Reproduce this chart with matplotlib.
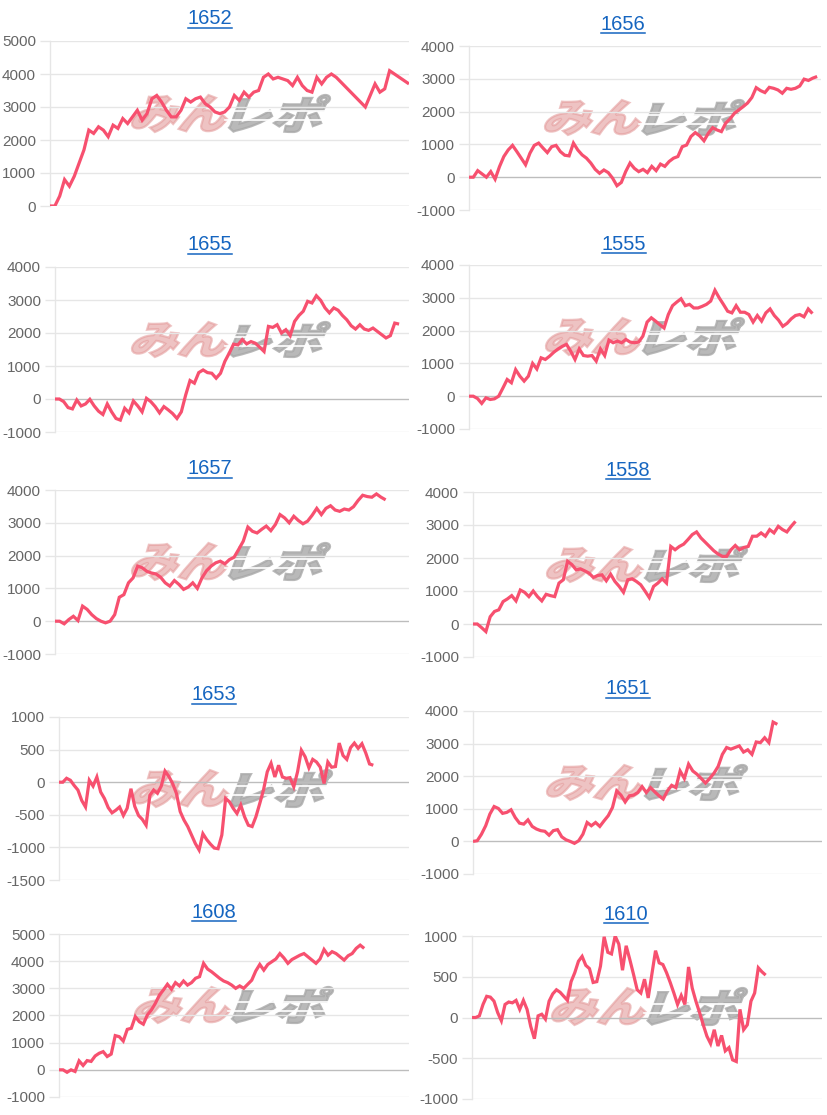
import numpy as np
import matplotlib
matplotlib.use("Agg")
import matplotlib.pyplot as plt
import matplotlib.transforms as mtransforms
from matplotlib.textpath import TextPath
from matplotlib.patches import PathPatch
from matplotlib.font_manager import FontProperties
from matplotlib.lines import Line2D

# ---------------- data ----------------
titles = ["1652", "1656", "1655", "1555", "1657", "1558", "1653", "1651", "1608", "1610"]

s1652 = [0, 0, 300, 800, 600, 900, 1300, 1700, 2300, 2200, 2400, 2300, 2100, 2450, 2350, 2650, 2500,
         2700, 2900, 2600, 2800, 3250, 3350, 3150, 2900, 2700, 2700, 2900, 3250, 3150, 3250, 3300, 3100,
         3000, 2850, 2800, 2850, 3000, 3350, 3200, 3450, 3300, 3450, 3500, 3900, 4000, 3850, 3900, 3850,
         3800, 3650, 3900, 3650, 3500, 3450, 3900, 3700, 3900, 4000, 3900, 3750, 3600, 3450, 3300, 3150,
         3000, 3350, 3700, 3450, 3550, 4100, 4000, 3900, 3800, 3700]
s1656 = [0, 0, 200, 100, 0, 170, -60, 320, 630, 830, 970, 780, 580, 380, 730, 970, 1040, 890, 750, 930,
         970, 780, 670, 650, 1040, 830, 680, 580, 430, 240, 120, 220, 140, -30, -260, -160, 170, 430, 270,
         170, 240, 140, 330, 200, 400, 330, 480, 580, 630, 930, 980, 1240, 1360, 1260, 1110, 1340, 1510,
         1440, 1390, 1650, 1780, 1950, 2050, 2150, 2260, 2430, 2730, 2640, 2580, 2740, 2710, 2660, 2560,
         2710, 2680, 2710, 2780, 2990, 2950, 3020, 3070]
s1655 = [0, 0, -80, -260, -300, -30, -210, -150, -10, -210, -370, -470, -150, -390, -590, -640, -280,
         -420, -60, -210, -390, 20, -80, -230, -420, -230, -330, -440, -590, -390, 120, 560, 480, 800, 880,
         800, 780, 630, 780, 1140, 1390, 1660, 1640, 1800, 1670, 1740, 1690, 1570, 1440, 2200, 2170, 2250,
         2000, 2100, 1920, 2350, 2530, 2660, 2960, 2910, 3130, 2990, 2760, 2610, 2760, 2690, 2530, 2400,
         2220, 2120, 2250, 2120, 2080, 2150, 2050, 1950, 1850, 1920, 2300, 2270]
s1555 = [0, 0, -70, -220, -50, -100, -80, 0, 250, 510, 410, 810, 610, 460, 610, 1000, 830, 1170, 1120,
         1220, 1340, 1440, 1520, 1580, 1370, 1120, 1440, 1240, 1220, 1240, 1070, 1440, 1240, 1710, 1630,
         1680, 1630, 1730, 1650, 1630, 1650, 1830, 2260, 2390, 2290, 2180, 2080, 2490, 2760, 2870, 2970,
         2760, 2800, 2690, 2690, 2740, 2800, 2900, 3230, 3000, 2800, 2590, 2540, 2760, 2560, 2560, 2490,
         2260, 2460, 2290, 2540, 2660, 2460, 2320, 2130, 2220, 2360, 2460, 2490, 2420, 2660, 2520]
s1657 = [0, 0, -80, 50, 150, 20, 460, 360, 200, 80, 0, -50, 0, 200, 730, 810, 1170, 1320, 1680, 1630,
         1520, 1470, 1440, 1340, 1170, 1070, 1240, 1120, 970, 1040, 1170, 1000, 1320, 1540, 1680, 1780,
         1830, 1750, 1880, 1950, 2190, 2440, 2870, 2740, 2690, 2800, 2900, 2760, 2950, 3250, 3150, 3000,
         3200, 3070, 2970, 3050, 3230, 3440, 3250, 3440, 3520, 3390, 3350, 3420, 3390, 3490, 3680, 3840,
         3800, 3780, 3880, 3780, 3700]
s1558 = [0, 0, -110, -230, 220, 380, 430, 680, 760, 860, 700, 1030, 960, 830, 1000, 830, 700, 900, 860,
         830, 1240, 1340, 1900, 1800, 1640, 1670, 1610, 1540, 1410, 1470, 1490, 1310, 1510, 1290, 1140,
         960, 1340, 1370, 1290, 1190, 1000, 800, 1140, 1240, 1370, 1240, 2350, 2250, 2350, 2420, 2560,
         2710, 2790, 2610, 2480, 2350, 2220, 2120, 2050, 2050, 2250, 2380, 2250, 2320, 2350, 2660, 2660,
         2760, 2660, 2860, 2760, 2960, 2860, 2790, 2960, 3110]
s1653 = [0, 0, 60, 30, -50, -120, -280, -380, 30, -60, 80, -150, -250, -390, -470, -430, -380, -510,
         -400, -100, -370, -510, -570, -660, -200, -120, -170, -60, 170, 90, -20, -170, -450, -580, -680,
         -810, -940, -1040, -790, -880, -950, -1010, -1020, -810, -250, -300, -400, -480, -350, -530, -660,
         -680, -530, -330, -120, 160, 290, 80, 260, 80, 60, 70, -70, 160, 490, 390, 220, 350, 310, 230, -20,
         310, 230, 240, 600, 410, 350, 530, 600, 520, 590, 450, 280, 260]
s1651 = [0, 20, 220, 480, 840, 1070, 1010, 860, 890, 970, 730, 560, 530, 660, 460, 380, 330, 310, 190,
         330, 360, 140, 50, 0, -60, 20, 220, 580, 480, 580, 460, 630, 790, 1040, 1550, 1420, 1210, 1400,
         1420, 1500, 1680, 1500, 1650, 1520, 1400, 1300, 1550, 1720, 1650, 2160, 1930, 2370, 2160, 2060,
         1930, 1790, 1930, 2090, 2300, 2670, 2880, 2830, 2880, 2930, 2740, 2810, 2670, 3050, 3030, 3180,
         3030, 3660, 3590]
s1608 = [0, 0, -90, 0, -60, 330, 160, 340, 310, 510, 610, 670, 490, 580, 1260, 1220, 1060, 1490, 1530,
         1960, 1770, 1680, 2020, 2200, 2450, 2750, 2940, 3150, 2970, 3210, 3090, 3270, 3120, 3210, 3370,
         3430, 3920, 3710, 3610, 3490, 3370, 3270, 3210, 3120, 3000, 3090, 3000, 3150, 3300, 3640, 3880,
         3670, 3880, 3980, 4080, 4280, 4120, 3920, 4060, 4140, 4220, 4280, 4160, 4040, 3920, 4080, 4430,
         4220, 4350, 4280, 4160, 4040, 4200, 4280, 4470, 4590, 4470]
s1610 = [0, 0, 20, 160, 260, 250, 200, 60, -40, 160, 190, 180, 210, 100, 210, 100, -110, -260, 20, 40,
         -20, 200, 290, 340, 310, 260, 210, 440, 550, 690, 750, 640, 600, 430, 440, 630, 990, 800, 780,
         1000, 900, 580, 880, 710, 530, 340, 300, 470, 240, 530, 820, 670, 650, 550, 430, 300, 160, 270,
         160, 620, 360, 200, 60, -90, -230, -320, -150, -350, -220, -410, -370, -520, -540, 100, -150, -90,
         200, 300, 610, 560, 520]

series = [s1652, s1656, s1655, s1555, s1657, s1558, s1653, s1651, s1608, s1610]

y_ranges = [(0, 5000, 1000), (-1000, 4000, 1000), (-1000, 4000, 1000), (-1000, 4000, 1000),
            (-1000, 4000, 1000), (-1000, 4000, 1000), (-1500, 1000, 500), (-1000, 4000, 1000),
            (-1000, 5000, 1000), (-1000, 1000, 500)]

# ---------------- layout (pixels) ----------------
W, H = 828, 1115
boxes = [(50, 41, 409, 206), (469, 46, 821, 210),
         (55, 267, 409, 432), (469, 265, 822, 429),
         (55, 490, 409, 654), (473, 492, 822, 657),
         (59, 717, 409, 880), (473, 711, 822, 874),
         (59, 934, 409, 1097), (472, 936, 822, 1099)]
x_extent = [1.0, 0.989, 0.972, 0.973, 0.934, 0.924, 0.898, 0.872, 0.872, 0.839]
title_pos = [(210, 19), (623, 24), (210, 245), (624, 244), (210, 469),
             (628, 470), (214, 695), (628, 689), (214, 912), (626, 914)]
marks = [(132, 95, 330, 132), (545, 100, 744, 135), (132, 322, 330, 357), (546, 318, 744, 355),
         (132, 543, 330, 580), (547, 547, 747, 582), (133, 770, 332, 807), (547, 765, 747, 800),
         (135, 987, 333, 1023), (552, 988, 747, 1025)]

LINE = "#f7506f"
GRID = "#e6e6e6"
ZERO = "#bdbdbd"
TICK = "#666666"
TITLE = "#1565c0"

plt.rcParams['font.family'] = ['Liberation Sans', 'DejaVu Sans']
fig = plt.figure(figsize=(W / 100, H / 100), dpi=100)
fig.patch.set_facecolor("white")

cjk = FontProperties(family='Noto Sans CJK JP', weight='heavy')


def add_mark(ax, text, x0, y0, x1, y1, color, alpha, stripes=False):
    tp = TextPath((0, 0), text, size=100, prop=cjk)
    p = mtransforms.Affine2D().skew_deg(16, 0).transform_path(tp)
    ext = p.get_extents()
    sx = (x1 - x0) / ext.width
    sy = (y1 - y0) / ext.height
    tr = mtransforms.Affine2D().translate(-ext.x0, -ext.y0).scale(sx, sy).translate(x0, H - y1)
    patch = PathPatch(tr.transform_path(p), facecolor=color, edgecolor=color, lw=1.6, alpha=alpha,
                      transform=mtransforms.IdentityTransform(), zorder=0.6, clip_on=False)
    ax.add_artist(patch)
    if stripes:
        for fy in (0.42, 0.68):
            yy = H - (y0 + (y1 - y0) * fy)
            ax.add_artist(Line2D([x0 - 4, x1 + 4], [yy, yy], color="white", lw=1.2,
                                 transform=mtransforms.IdentityTransform(), zorder=0.65))


axes = []
for i, (vals, (lo, hi, st)) in enumerate(zip(series, y_ranges)):
    l, t, r, b = boxes[i]
    ax = fig.add_axes([l / W, 1 - b / H, (r - l) / W, (b - t) / H])
    axes.append(ax)
    x = np.arange(len(vals))
    ax.plot(x, vals, color=LINE, lw=2.3, zorder=3, solid_joinstyle='miter', solid_capstyle='butt')
    ax.set_xlim(0, (len(vals) - 1) / x_extent[i])
    ax.set_ylim(lo, hi)
    ticks = np.arange(lo, hi + st / 2, st)
    ax.set_yticks(ticks)
    ax.set_yticklabels([str(int(v)) for v in ticks])
    ax.set_xticks([])
    for v in ticks:
        ax.axhline(v, color=ZERO if v == 0 else GRID, lw=1.0, zorder=1)
    for s in ['top', 'right', 'bottom']:
        ax.spines[s].set_visible(False)
    ax.spines['left'].set_color(GRID)
    ax.spines['left'].set_linewidth(1.0)
    ax.tick_params(axis='y', length=7, width=1.0, color=GRID, pad=3, labelsize=11, labelcolor=TICK)
    ax.set_facecolor("none")
    # watermark
    mx0, my0, mx1, my1 = marks[i]
    mid = mx0 + (mx1 - mx0) * 0.48
    add_mark(ax, "みん", mx0, my0, mid, my1, "#e49c9c", 0.6)
    add_mark(ax, "レポ", mid + 2, my0, mx1, my1, "#a8a8a8", 0.8, stripes=True)

# titles with underline
fig.canvas.draw()
renderer = fig.canvas.get_renderer()
for i, name in enumerate(titles):
    tx, ty = title_pos[i]
    txt = fig.text(tx / W, 1 - ty / H, name, ha='center', va='center', fontsize=14.5, color=TITLE)
    bb = txt.get_window_extent(renderer=renderer)
    uy = (1 - ty / H) - 9 / H
    fig.add_artist(Line2D([bb.x0 / W, bb.x1 / W], [uy, uy], color=TITLE, lw=1.1,
                          transform=fig.transFigure))

fig.savefig("out.png", dpi=100, facecolor="white")
